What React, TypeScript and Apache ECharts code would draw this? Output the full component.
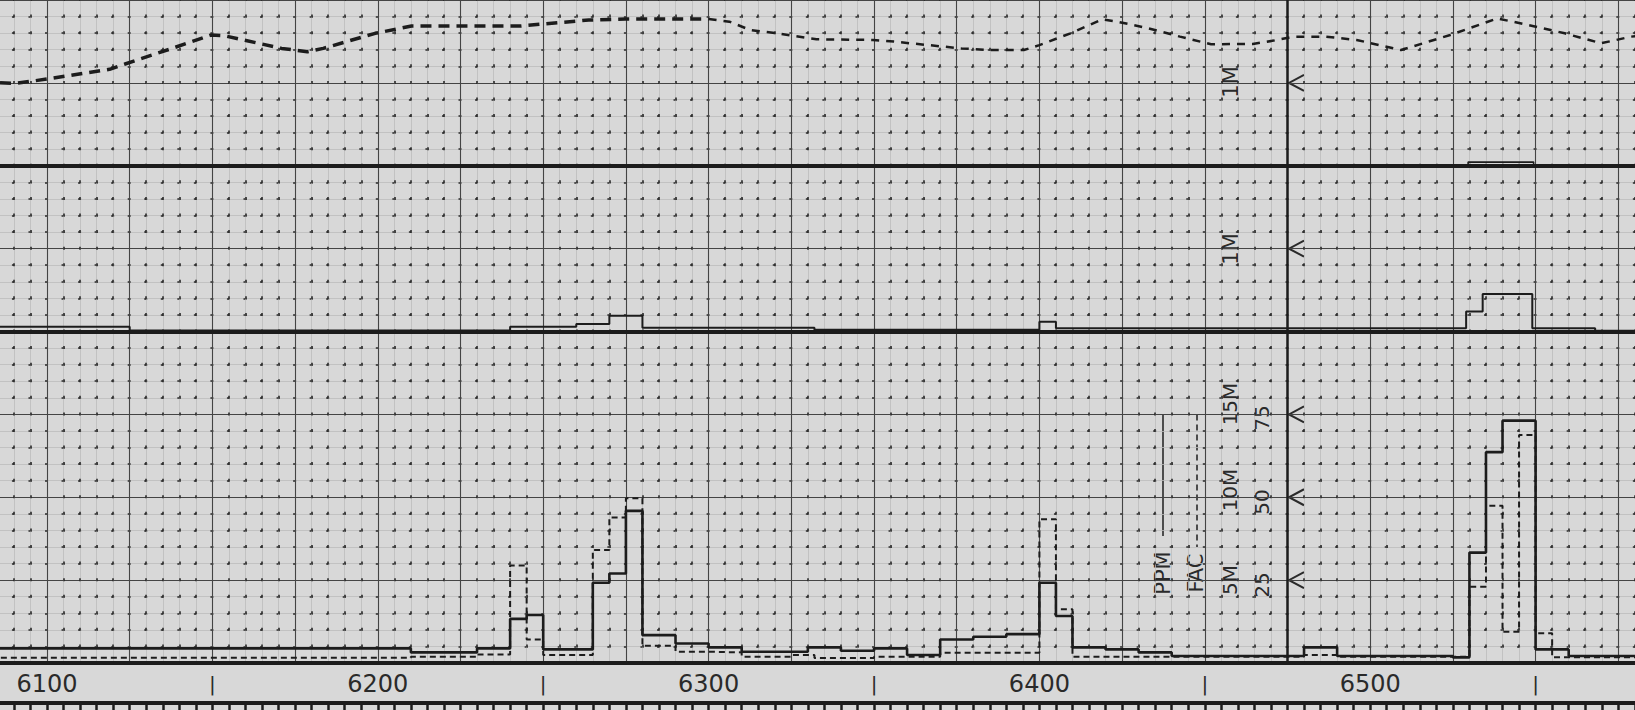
import React, { useEffect, useRef } from "react";
import * as echarts from "echarts";

// ---------- data ----------
// x positions are record distance units (6100 ... 6500)
const LABEL_INTERVAL = 50;
const LABEL_RANGE = [6090, 6570];
const VERTICAL_MARK = [[6475, 0], [6475, 200]];

// Panel 1 (top, 1M scale): value as % of panel height
const panel1Heavy: number[][] = [
  [6085.8, 50.1], [6090.6, 49.7], [6100, 52.3], [6118.9, 58.2], [6123.6, 61.4], [6137.8, 70.8],
  [6149.6, 78.9], [6153.5, 78.5], [6170.9, 70.8], [6178.7, 68.8], [6183.5, 70.8], [6199.2, 79.9],
  [6210.2, 84.3], [6243.3, 84.3], [6249.6, 85.5], [6263.8, 87.9], [6274.8, 88.5], [6300, 88.5],
];
const panel1Light: number[][] = [
  [6300, 88.5], [6306.3, 86.9], [6312.6, 81.9], [6320.5, 79.9], [6332.6, 76.3], [6349.7, 75.9],
  [6356, 74.9], [6376.4, 70.8], [6384.3, 69.8], [6395.3, 69.8], [6400, 72.8], [6409.4, 79.9],
  [6418.9, 88.3], [6423.6, 86.9], [6433, 82.9], [6442.5, 77.9], [6451.9, 73.3], [6464.5, 73.5],
  [6470.8, 75.5], [6477, 77.9], [6486.5, 77.9], [6495.9, 75.9], [6509.3, 69.8], [6524.2, 78.9],
  [6538.4, 88.9], [6547.8, 84.9], [6558.8, 79.9], [6569.8, 73.9], [6578.9, 77.9], [6582, 78.4],
];
const panel1Box: number[][] = [[6529.6, 0], [6529.6, 2.2], [6549.4, 2.2], [6549.4, 0]];

// Panel 2 (middle, 1M scale): step record
const panel2Steps: number[][] = [
  [6080, 2.9], [6125, 0.6], [6240, 2.9], [6260, 4.5], [6270, 9.5], [6280, 2.3], [6332, 1.0],
  [6400, 5.9], [6405, 1.9], [6529, 12], [6534, 22.6], [6549, 1.9], [6568, 0.5], [6590, 0.5],
];

// Panel 3 (bottom, 0-100 scale): PPM (solid) and FAC (dashed)
const ppmSteps: number[][] = [
  [6080, 4.4], [6210, 3.2], [6230, 4.4], [6240, 13.3], [6245, 14.5], [6250, 4.1], [6265, 24.2],
  [6270, 27], [6275, 45.9], [6280, 8.4], [6290, 5.9], [6300, 4.7], [6310, 3.4], [6330, 4.7],
  [6340, 3.7], [6350, 4.4], [6360, 2.4], [6370, 7.1], [6380, 7.9], [6390, 8.7], [6400, 24.2],
  [6405, 14.2], [6410, 4.7], [6420, 4.1], [6430, 3.2], [6440, 2.1], [6480, 4.7], [6490, 2.1],
  [6525, 1.7], [6530, 33.3], [6535, 63.6], [6540, 73.1], [6550, 4.1], [6560, 2.1], [6590, 2.1],
];
const facSteps: number[][] = [
  [6080, 1.6], [6210, 1.9], [6230, 2.6], [6240, 29.4], [6245, 7.1], [6250, 2.4], [6265, 34.1],
  [6270, 43.9], [6275, 49.7], [6280, 5.2], [6290, 3.4], [6300, 3.2], [6310, 1.9], [6325, 2.4],
  [6332, 1.5], [6350, 1.9], [6370, 3.1], [6400, 43.4], [6405, 16.2], [6410, 1.9], [6480, 2.4],
  [6490, 1.9], [6530, 23], [6535, 47.4], [6540, 9.4], [6545, 68.8], [6550, 9], [6555, 1.7],
  [6590, 1.7],
];

// ---------- layout ----------
const W = 1635;
const H = 710;
const X_MIN = 6050;
const X_MAX = 6600;
const PX_PER_UNIT = 3.308;
const X_REF = 6100;
const X_REF_PX = 47;
const PLOT_BOTTOM = 663;
const MAJOR = PLOT_BOTTOM / 8;
const SHIFT = 120; // chart canvas starts this far left of the page
const GRID_LEFT = X_REF_PX - (X_REF - X_MIN) * PX_PER_UNIT + SHIFT;
const GRID_WIDTH = (X_MAX - X_MIN) * PX_PER_UNIT;
const CHART_W = 1840;
const MINOR_X = 5 * PX_PER_UNIT;
const MINOR_Y = MAJOR / 5;

const PAPER = "#d8d8d8";
const INK = "#1c1c1c";
const GRIDINK = "#444444";
const FONT = "DejaVu Sans";

const baseX = { type: "value", min: X_MIN, max: X_MAX, interval: 25 };
const hiddenParts = {
  axisTick: { show: false },
  axisLabel: { show: false },
  splitLine: { show: false },
};

function vText(text: string, x: number, y: number, size = 21) {
  return {
    type: "text",
    x,
    y,
    rotation: Math.PI / 2,
    style: { text, fontSize: size, fontFamily: FONT, fill: "#2a2a2a", align: "center", verticalAlign: "middle" },
  };
}
function arrow(y: number) {
  return {
    type: "polyline",
    shape: { points: [[1304, y - 8], [1289, y], [1304, y + 8]] },
    style: { stroke: "#2a2a2a", lineWidth: 2, fill: "none" },
  };
}

const gridBase = { left: GRID_LEFT, width: GRID_WIDTH, containLabel: false, outerBoundsMode: "none" };

const option: any = {
  animation: false,
  backgroundColor: PAPER,
  grid: [
    { ...gridBase, top: 0, height: PLOT_BOTTOM },
    { ...gridBase, top: 0, height: 2 * MAJOR },
    { ...gridBase, top: 2 * MAJOR, height: 2 * MAJOR },
    { ...gridBase, top: 4 * MAJOR, height: 4 * MAJOR },
  ],
  xAxis: [
    {
      ...baseX, gridIndex: 0, position: "top",
      axisLine: { show: true, lineStyle: { color: INK, width: 4 } },
      axisTick: { show: false }, axisLabel: { show: false },
      splitLine: { show: true, lineStyle: { color: GRIDINK, width: 1.1 } },
      minorTick: { show: false, splitNumber: 5 },
      minorSplitLine: { show: true, lineStyle: { color: "#bdbdbd", width: 0.8 } },
    },
    {
      ...baseX, gridIndex: 0, position: "bottom",
      axisLine: { show: false }, ...hiddenParts,
      minorTick: { show: false, splitNumber: 5 },
      minorSplitLine: { show: true, lineStyle: { color: "#2a2a2a", width: 1.6, type: [3, MINOR_Y - 3], dashOffset: 1.5 } },
    },
    { ...baseX, gridIndex: 1, position: "bottom", axisLine: { show: true, lineStyle: { color: INK, width: 4 } }, ...hiddenParts },
    { ...baseX, gridIndex: 2, position: "bottom", axisLine: { show: true, lineStyle: { color: INK, width: 4 } }, ...hiddenParts },
    {
      ...baseX, interval: LABEL_INTERVAL, gridIndex: 3, position: "bottom",
      axisLine: { show: true, lineStyle: { color: INK, width: 4 } },
      axisTick: { show: false }, splitLine: { show: false },
      axisLabel: {
        show: true, interval: 0, showMinLabel: true, showMaxLabel: true, margin: 21,
        verticalAlign: "middle", fontSize: 24, fontFamily: FONT, color: "#2a2a2a",
        formatter: (v: number) =>
          v < LABEL_RANGE[0] || v > LABEL_RANGE[1] ? "" : v % 100 === 0 ? String(v) : "{bar||}",
        rich: { bar: { fontSize: 20, fontFamily: FONT, color: "#2a2a2a" } },
      },
    },
    {
      ...baseX, interval: 5, gridIndex: 3, position: "bottom", offset: 40,
      axisLine: { show: true, lineStyle: { color: INK, width: 4 } },
      axisTick: { show: true, inside: false, length: 8, lineStyle: { color: INK, width: 2.5 } },
      axisLabel: { show: false }, splitLine: { show: false },
    },
  ],
  yAxis: [
    {
      type: "value", gridIndex: 0, min: 0, max: 200, interval: 25, position: "left",
      axisLine: { show: false }, axisTick: { show: false }, axisLabel: { show: false },
      splitLine: { show: true, lineStyle: { color: GRIDINK, width: 1.1 } },
      minorTick: { show: false, splitNumber: 5 },
      minorSplitLine: { show: true, lineStyle: { color: "#bdbdbd", width: 0.8 } },
    },
    {
      type: "value", gridIndex: 0, min: 0, max: 200, interval: 25, position: "right",
      axisLine: { show: false }, ...hiddenParts,
      minorTick: { show: false, splitNumber: 5 },
      minorSplitLine: { show: true, lineStyle: { color: "#2a2a2a", width: 1.6, type: [3, MINOR_X - 3], dashOffset: 1.5 } },
    },
    { type: "value", gridIndex: 1, min: 0, max: 100, show: false },
    { type: "value", gridIndex: 2, min: 0, max: 100, show: false },
    { type: "value", gridIndex: 3, min: 0, max: 100, show: false },
  ],
  series: [
    {
      name: "Marker", type: "line", xAxisIndex: 0, yAxisIndex: 0, data: VERTICAL_MARK,
      symbol: "none", lineStyle: { color: INK, width: 2.5 }, silent: true,
    },
    {
      name: "Record 1", type: "line", xAxisIndex: 2, yAxisIndex: 2, data: panel1Heavy,
      symbol: "none", lineStyle: { color: INK, width: 3.5, type: [11, 7] },
    },
    {
      name: "Record 1 (cont.)", type: "line", xAxisIndex: 2, yAxisIndex: 2, data: panel1Light,
      symbol: "none", lineStyle: { color: INK, width: 2.5, type: [8, 7] },
    },
    {
      name: "Record 1 box", type: "line", xAxisIndex: 2, yAxisIndex: 2, data: panel1Box,
      symbol: "none", lineStyle: { color: INK, width: 1.6 },
    },
    {
      name: "Record 2", type: "line", step: "end", xAxisIndex: 3, yAxisIndex: 3, data: panel2Steps,
      symbol: "none", lineStyle: { color: INK, width: 2 },
    },
    {
      name: "PPM", type: "line", step: "end", xAxisIndex: 4, yAxisIndex: 4, data: ppmSteps,
      symbol: "none", lineStyle: { color: INK, width: 2.6 },
    },
    {
      name: "FAC", type: "line", step: "end", xAxisIndex: 4, yAxisIndex: 4, data: facSteps,
      symbol: "none", lineStyle: { color: INK, width: 2, type: [6, 4] },
    },
  ],
  graphic: [
    {
      type: "group",
      x: SHIFT,
      y: 0,
      children: [
        vText("1M", 1231, 82),
        vText("1M", 1231, 249),
        vText("PPM", 1163, 573),
        vText("FAC", 1196, 573),
        vText("5M", 1230, 580, 20),
        vText("10M", 1230, 490, 20),
        vText("15M", 1230, 404, 20),
        vText("25", 1262, 585, 20),
        vText("50", 1262, 502, 20),
        vText("75", 1262, 418, 20),
        {
          type: "line", shape: { x1: 1163, y1: 5 * MAJOR, x2: 1163, y2: 536 },
          style: { stroke: "#2a2a2a", lineWidth: 1.6 },
        },
        {
          type: "line", shape: { x1: 1197, y1: 5 * MAJOR, x2: 1197, y2: 547 },
          style: { stroke: "#2a2a2a", lineWidth: 1.6, lineDash: [6, 4] },
        },
        arrow(MAJOR),
        arrow(3 * MAJOR),
        arrow(5 * MAJOR),
        arrow(6 * MAJOR),
        arrow(7 * MAJOR),
      ],
    },
  ],
};

export default function App() {
  const ref = useRef<HTMLDivElement>(null);
  useEffect(() => {
    const chart = echarts.init(ref.current!, null, { renderer: "svg" });
    chart.setOption(option);
    return () => chart.dispose();
  }, []);
  return (
    <div style={{ position: "fixed", left: 0, top: 0, width: W, height: H, overflow: "hidden", background: PAPER }}>
      <div ref={ref} style={{ position: "absolute", left: -SHIFT, top: 0, width: CHART_W, height: H }} />
    </div>
  );
}
